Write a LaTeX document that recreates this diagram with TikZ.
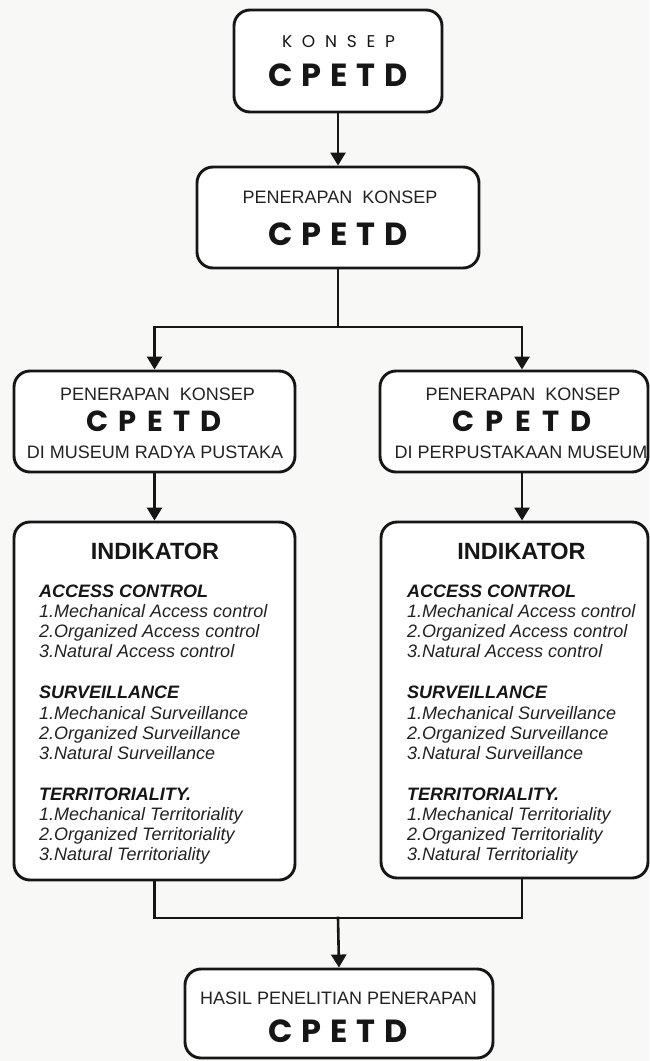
\documentclass[tikz,border=0pt]{standalone}
\usepackage{fontspec}
\setmainfont{Liberation Sans}
\newfontfamily\pop{Poppins}
\usetikzlibrary{arrows.meta}
\definecolor{ink}{HTML}{161616}
\definecolor{txt}{HTML}{222222}
\definecolor{bg}{HTML}{F8F8F6}
\newcommand\indlist[2]{%
  \node[hd] (#2a0) at (#1,597) {ACCESS CONTROL};
  \node[it] (#2a1) at (#1,617) {1.Mechanical Access control};
  \node[it] (#2a2) at (#1,637) {2.Organized Access control};
  \node[it] (#2a3) at (#1,657) {3.Natural Access control};
  \node[hd] (#2s0) at (#1,698) {SURVEILLANCE};
  \node[it] (#2s1) at (#1,719) {1.Mechanical Surveillance};
  \node[it] (#2s2) at (#1,739) {2.Organized Surveillance};
  \node[it] (#2s3) at (#1,759) {3.Natural Surveillance};
  \node[hd] (#2t0) at (#1,800) {TERRITORIALITY.};
  \node[it] (#2t1) at (#1,820) {1.Mechanical Territoriality};
  \node[it] (#2t2) at (#1,840) {2.Organized Territoriality};
  \node[it] (#2t3) at (#1,860) {3.Natural Territoriality};
}
\newcommand\cpetdword[1]{\makebox[#1]{C\hfill P\hfill E\hfill T\hfill D}}
\begin{document}
\begin{tikzpicture}[x=1pt,y=-1pt,
  box/.style={draw=ink, line width=2.9pt, rounded corners=16pt, fill=white, inner sep=0pt},
  conn/.style={draw=ink, line width=2.6pt, line cap=rect},
  arr/.style={conn, -{Triangle[length=13pt,width=15pt]}},
  lbl/.style={anchor=base, inner sep=0pt, text=txt, font=\fontsize{18}{20}\selectfont},
  big/.style={anchor=base, inner sep=0pt, text=ink, font=\pop\bfseries\fontsize{32}{34}\selectfont},
  small/.style={anchor=base, inner sep=0pt, text=ink, font=\pop\fontsize{17}{20}\selectfont},
  indk/.style={anchor=base, inner sep=0pt, text=ink, font=\bfseries\fontsize{23.5}{26}\selectfont},
  hd/.style={anchor=base west, inner sep=0pt, text=ink, font=\bfseries\itshape\fontsize{18}{20}\selectfont},
  it/.style={anchor=base west, inner sep=0pt, text=txt, font=\itshape\fontsize{18}{20}\selectfont}]
\fill[bg] (0,0) rectangle (649,1061);
\useasboundingbox (0,0) rectangle (649,1061);

% boxes
\node[box, minimum width=208pt, minimum height=102pt] (top) at (338,61) {};
\node[box, minimum width=282pt, minimum height=101pt] (second) at (338,217.5) {};
\node[box, minimum width=281pt, minimum height=101pt] (leftmid) at (154.5,421.5) {};
\node[box, minimum width=268pt, minimum height=101pt] (rightmid) at (514,421.5) {};
\node[box, minimum width=281pt, minimum height=358pt] (leftind) at (154.5,701) {};
\node[box, minimum width=267pt, minimum height=356pt] (rightind) at (514.5,700) {};
\node[box, minimum width=308pt, minimum height=89pt] (bottom) at (339,1013.5) {};

% texts
\node[small] (t1) at (338.5,47) {\makebox[113pt]{K\hfill O\hfill N\hfill S\hfill E\hfill P}};
\node[big] (t2) at (338,86) {\cpetdword{140pt}};

\node[lbl] (s1) at (340,203) {PENERAPAN\ \ KONSEP};
\node[big] (s2) at (338,245) {\cpetdword{140pt}};

\node[lbl] (l1) at (157.5,400) {PENERAPAN\ \ KONSEP};
\node[big, font=\pop\bfseries\fontsize{29}{31}\selectfont] (l2) at (154,431) {\cpetdword{136pt}};
\node[lbl] (l3) at (155,458) {DI MUSEUM RADYA PUSTAKA};

\node[lbl] (r1) at (523,400) {PENERAPAN\ \ KONSEP};
\node[big, font=\pop\bfseries\fontsize{29}{31}\selectfont] (r2) at (522,431) {\cpetdword{140pt}};
\node[lbl] (r3) at (521,458) {DI PERPUSTAKAAN MUSEUM};

\node[indk] (li) at (155,559) {INDIKATOR};
\node[indk] (ri) at (521.5,559) {INDIKATOR};
\indlist{39}{L}
\indlist{407}{R}

\node[lbl] (b1) at (338.5,1004) {HASIL PENELITIAN PENERAPAN};
\node[big] (b2) at (338,1042) {\cpetdword{140pt}};

% connectors
\coordinate (split) at (338,327);
\coordinate (join) at (338,918);
\draw[arr] (top.south) -- (second.north);
\draw[conn] (second.south) -- (split);
\draw[arr] (split) -| (leftmid.north);
\draw[arr] (split) -| ([xshift=8pt]rightmid.north);
\draw[arr] (leftmid.south) -- (leftind.north);
\draw[arr] ([xshift=8pt]rightmid.south) -- ([xshift=7.5pt]rightind.north);
\draw[conn] (leftind.south) |- (join);
\draw[conn] ([xshift=7.5pt]rightind.south) |- (join);
\draw[arr] (join) -- (bottom.north);
\end{tikzpicture}
\end{document}
